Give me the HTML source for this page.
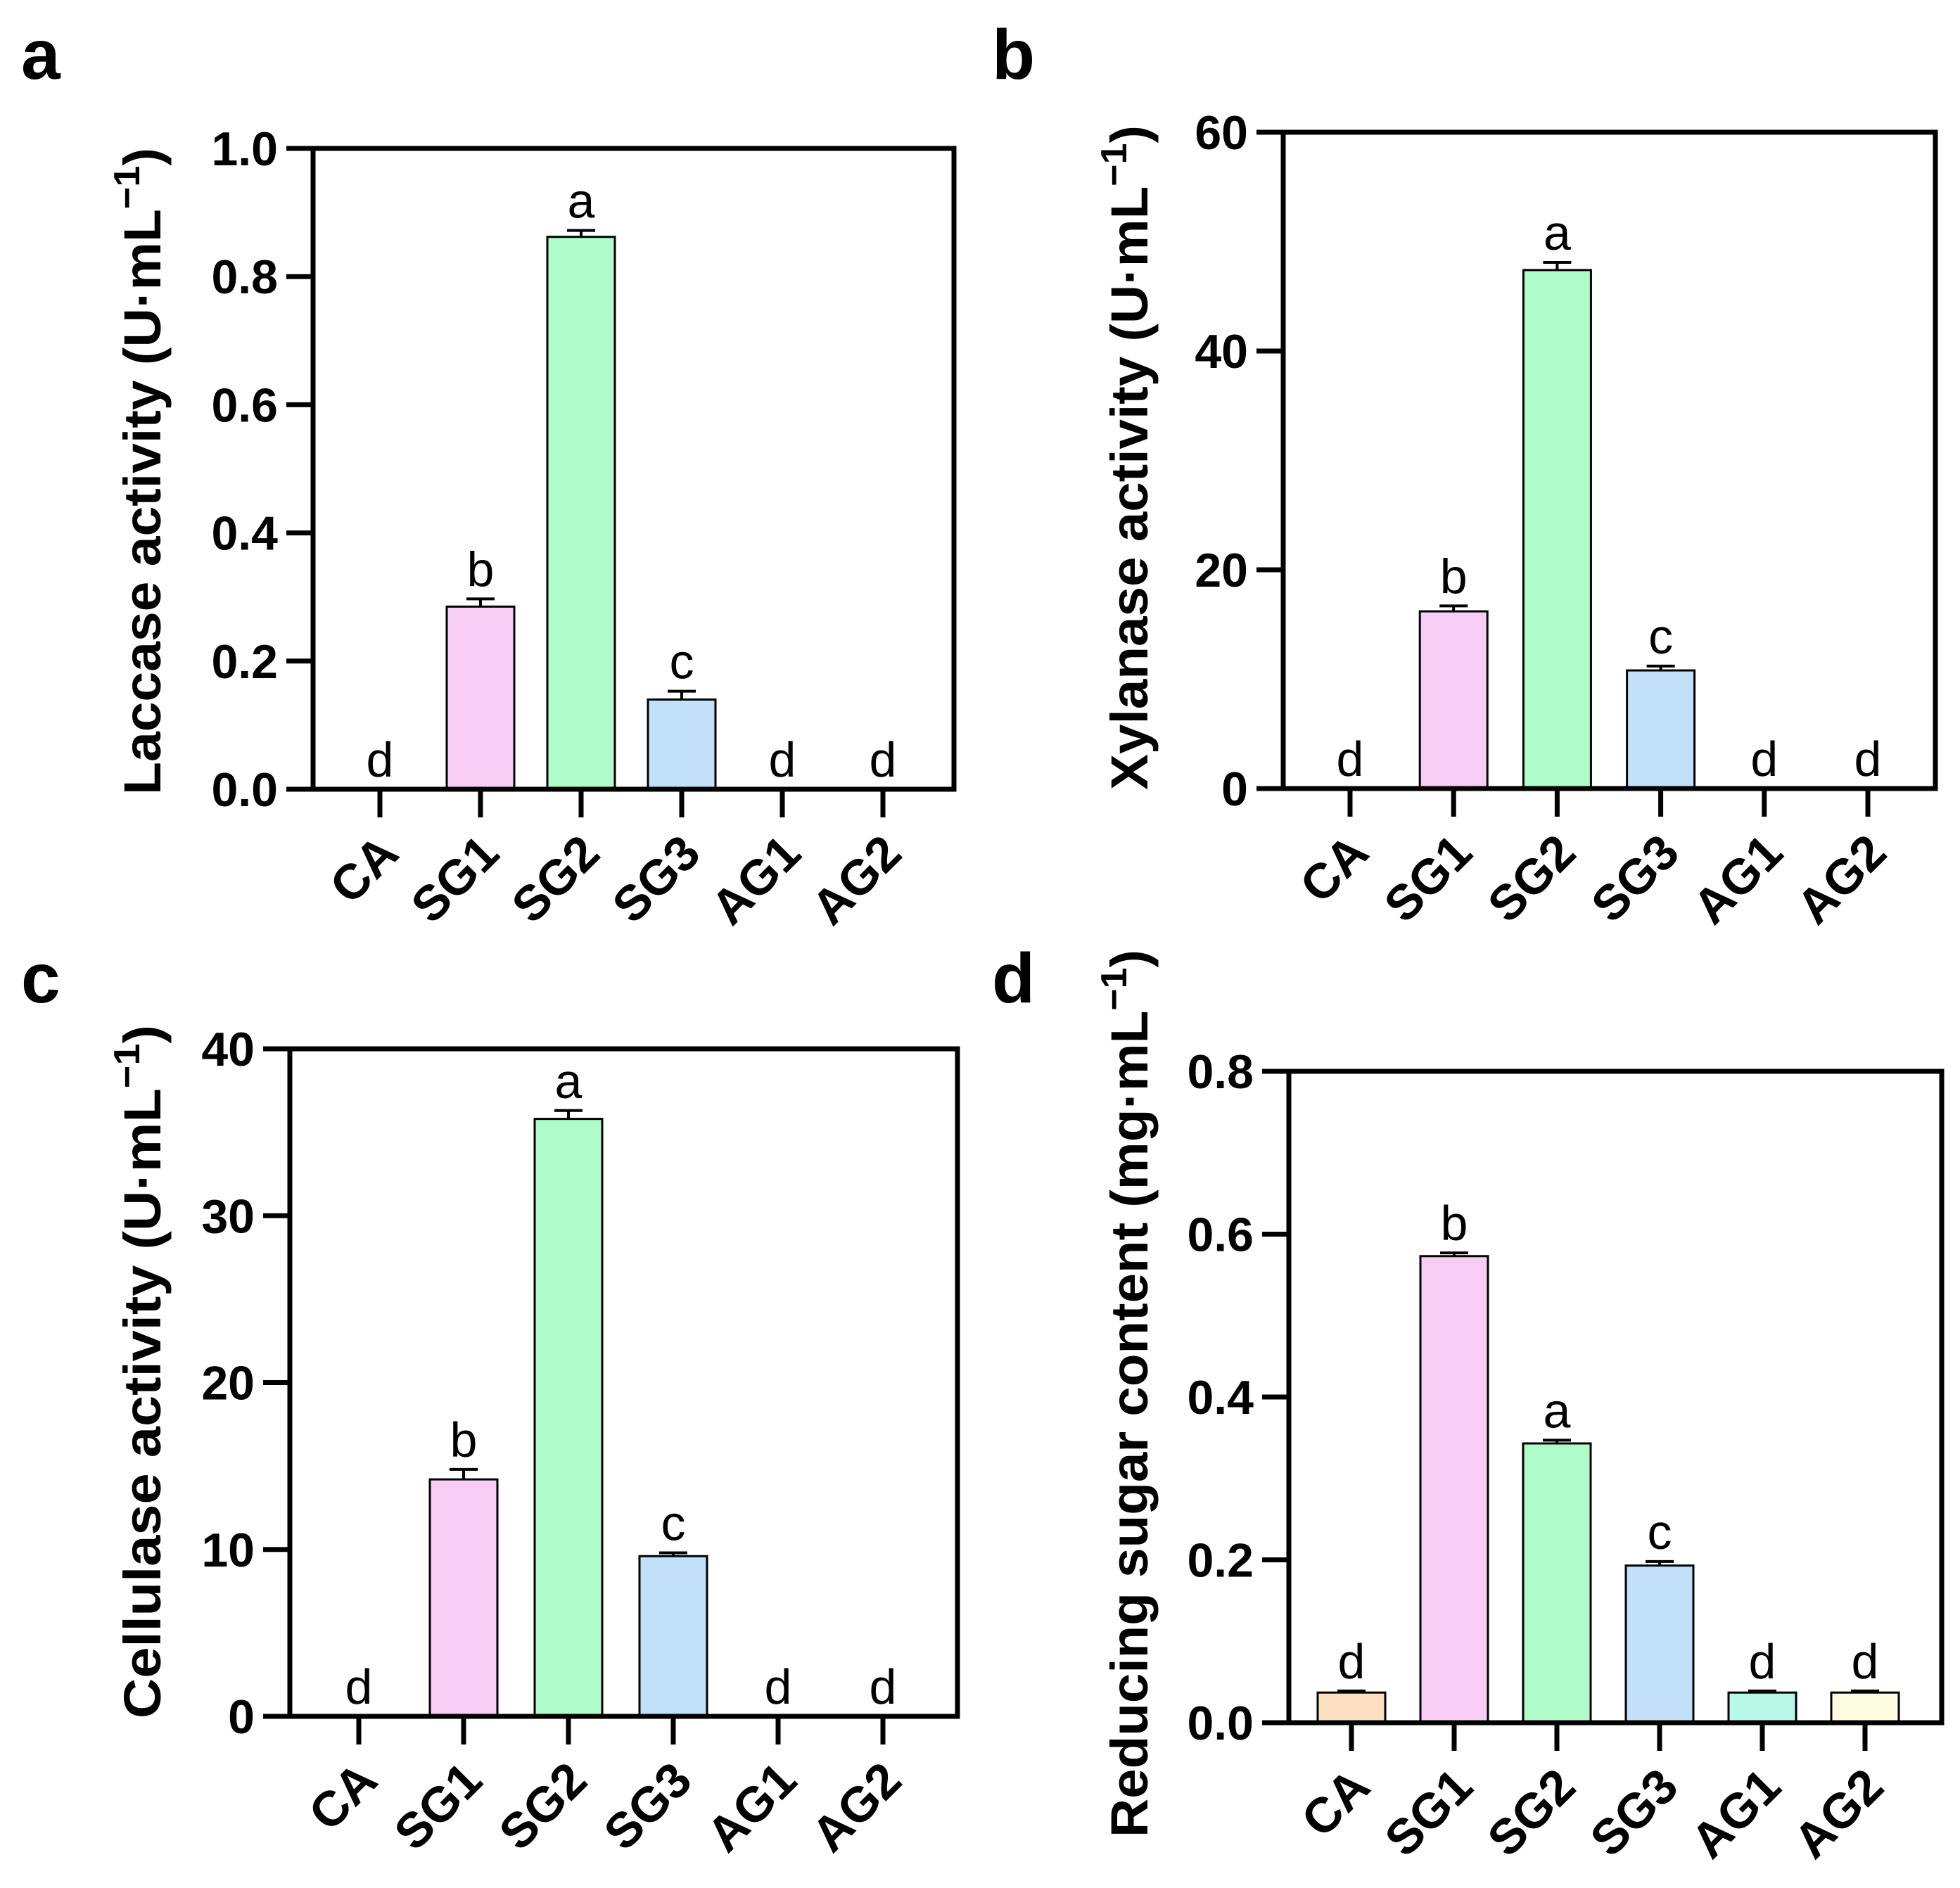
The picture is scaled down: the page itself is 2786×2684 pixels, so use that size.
<!DOCTYPE html>
<html><head><meta charset="utf-8"><style>
html,body{margin:0;padding:0;background:#fff}
svg{display:block}
text{font-family:"Liberation Sans",Arial,sans-serif}
</style></head><body>
<svg id="fig" width="2786" height="2684" viewBox="0 0 2786 2684" xmlns="http://www.w3.org/2000/svg">
<rect width="2786" height="2684" fill="#fff"/>
</svg>
<script>
const categories = ["CA","SG1","SG2","SG3","AG1","AG2"];
const laccaseValues = [0, 0.285, 0.862, 0.14, 0, 0];
const laccaseErrors = [0, 0.012, 0.01, 0.013, 0, 0];
const laccaseLetters = ["d","b","a","c","d","d"];
const laccaseTicks = ["0.0","0.2","0.4","0.6","0.8","1.0"];
const xylanaseValues = [0, 16.2, 47.4, 10.8, 0, 0];
const xylanaseErrors = [0, 0.5, 0.7, 0.4, 0, 0];
const xylanaseLetters = ["d","b","a","c","d","d"];
const xylanaseTicks = ["0","20","40","60"];
const cellulaseValues = [0, 14.2, 35.8, 9.6, 0, 0];
const cellulaseErrors = [0, 0.6, 0.5, 0.2, 0, 0];
const cellulaseLetters = ["d","b","a","c","d","d"];
const cellulaseTicks = ["0","10","20","30","40"];
const sugarValues = [0.037, 0.573, 0.343, 0.193, 0.037, 0.037];
const sugarErrors = [0.002, 0.004, 0.004, 0.005, 0.002, 0.002];
const sugarLetters = ["d","b","a","c","d","d"];
const sugarTicks = ["0.0","0.2","0.4","0.6","0.8"];

const NS = "http://www.w3.org/2000/svg";
const svg = document.getElementById("fig");
function mk(tag, attrs, parent){const e=document.createElementNS(NS,tag);for(const k in attrs)e.setAttribute(k,attrs[k]);(parent||svg).appendChild(e);return e;}

const barColors=["#fde0c0","#f7cdf5","#b0fcc8","#c2e0f8","#b8f8e8","#fefce0"];

function panel(cfg){
  const g=mk("g",{});
  
  
  const {L,R,T,B,first,step,max,values,errors,letters,ticks}=cfg;
  const y=v=>B-(v/max)*(B-T);
  const x=i=>first+i*step;
  const bw=96;
  values.forEach((v,i)=>{
    if(v<=0) return;
    const r=mk("rect",{x:x(i)-bw/2,y:y(v),width:bw,height:B-y(v),fill:barColors[i],stroke:"#000","stroke-width":3},g);
    
    
    const et=y(v+errors[i]);
    const e=mk("path",{d:`M${x(i)} ${y(v)}V${et}M${x(i)-20} ${et}H${x(i)+20}`,stroke:"#000","stroke-width":4,fill:"none"},g);
    
    
  });
  values.forEach((v,i)=>{
    const top=v>0?y(v+errors[i]):B;
    const t=mk("text",{x:x(i),y:top-18,"text-anchor":"middle","font-size":70},g);
    t.textContent=letters[i];
    
    
  });
  const f=mk("rect",{x:L,y:T,width:R-L,height:B-T,fill:"none",stroke:"#000","stroke-width":7},g);
  
  
  ticks.forEach((lab,k)=>{
    const v=max*k/(ticks.length-1);
    mk("line",{x1:L-38,x2:L,y1:y(v),y2:y(v),stroke:"#000","stroke-width":7},g);
    const t=mk("text",{x:L-50,y:y(v)+24,"text-anchor":"end","font-size":68,"font-weight":"bold"},g);
    t.textContent=lab;
    
    
  });
  categories.forEach((c,i)=>{
    mk("line",{x1:x(i),x2:x(i),y1:B,y2:B+40,stroke:"#000","stroke-width":7},g);
    const tx=x(i)+30, ty=B+95;
    const t=mk("text",{x:tx,y:ty,"text-anchor":"end","font-size":70,"font-weight":"bold",transform:`rotate(-45 ${tx} ${ty})`},g);
    t.textContent=c;
    
    
  });
  const cy=(cfg.tTop+cfg.tBot)/2, tx=cfg.tX;
  const t=mk("text",{x:tx,y:cy,"text-anchor":"middle","font-size":74,"font-weight":"bold",transform:`rotate(-90 ${tx} ${cy})`,textLength:cfg.tBot-cfg.tTop,lengthAdjust:"spacingAndGlyphs"},g);
  
  
  const s1=mk("tspan",{},t); s1.textContent=cfg.title;
  const s2=mk("tspan",{dy:-30,"font-size":52},t); s2.textContent="−1";
  const s3=mk("tspan",{dy:30},t); s3.textContent=")";
  const p=mk("text",{x:cfg.px,y:cfg.py,"font-size":100,"font-weight":"bold"},g);
  p.textContent=cfg.letter;
  
  
}

panel({name:"laccase",L:445,R:1356,T:211,B:1122,first:540,step:143,max:1.0,values:laccaseValues,errors:laccaseErrors,letters:laccaseLetters,ticks:laccaseTicks,title:"Laccase  activity (U·mL",tX:228,tTop:210,tBot:1130,letter:"a",px:30,py:112});
panel({name:"xylanase",L:1824,R:2751,T:188,B:1121,first:1919,step:147.2,max:60,values:xylanaseValues,errors:xylanaseErrors,letters:xylanaseLetters,ticks:xylanaseTicks,title:"Xylanase activity (U·mL",tX:1631,tTop:178,tBot:1123,letter:"b",px:1410,py:112});
panel({name:"cellulase",L:412,R:1361,T:1491,B:2440,first:510,step:149,max:40,values:cellulaseValues,errors:cellulaseErrors,letters:cellulaseLetters,ticks:cellulaseTicks,title:"Cellulase activity (U·mL",tX:228,tTop:1457,tBot:2443,letter:"c",px:30,py:1425});
panel({name:"reducing-sugar",L:1832,R:2760,T:1523,B:2449,first:1921,step:146,max:0.8,values:sugarValues,errors:sugarErrors,letters:sugarLetters,ticks:sugarTicks,title:"Reducing sugar content (mg·mL",tX:1631,tTop:1350,tBot:2612,letter:"d",px:1410,py:1425});
</script>
</body></html>
